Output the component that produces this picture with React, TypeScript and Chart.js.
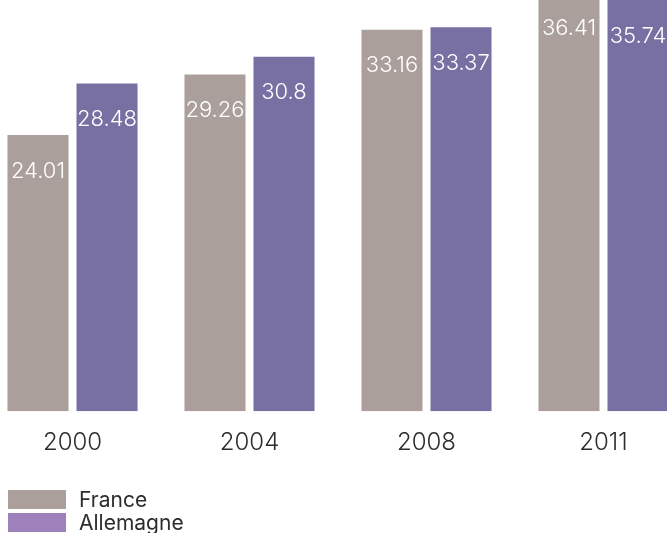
import React, { useEffect, useRef } from "react";
import { Chart, registerables } from "chart.js";

Chart.register(...registerables);

const years = ["2000", "2004", "2008", "2011"];
const france = [24.01, 29.26, 33.16, 36.41];
const allemagne = [28.48, 30.8, 33.37, 35.74];
const seriesNames = ["France", "Allemagne"];
const barColors = ["#ab9f9b", "#7870a3"];
const legendColors = ["#ab9f9b", "#9e80bb"];

const CANVAS_W = 708;
const CANVAS_H = 582;
const CANVAS_LEFT = -16;
const CANVAS_TOP = -49;

const valueLabels = {
  id: "valueLabels",
  afterDatasetsDraw(chart: any) {
    const ctx = chart.ctx;
    ctx.save();
    ctx.font = "300 22px Inter";
    ctx.fillStyle = "#ffffff";
    ctx.textAlign = "center";
    ctx.textBaseline = "middle";
    chart.data.datasets.forEach((ds: any, di: number) => {
      const meta = chart.getDatasetMeta(di);
      meta.data.forEach((bar: any, i: number) => {
        ctx.fillText(String(ds.data[i]), bar.x, bar.y + 36);
      });
    });
    ctx.restore();
  },
};

const stackedLegend = {
  id: "stackedLegend",
  afterDraw(chart: any) {
    const ctx = chart.ctx;
    const boxW = 58;
    const boxH = 19;
    const gap = 4;
    const left = 24;
    const bottom = chart.height - 1;
    ctx.save();
    ctx.font = "400 21px Inter";
    ctx.textAlign = "left";
    ctx.textBaseline = "middle";
    chart.data.datasets.forEach((ds: any, i: number) => {
      const top = bottom - (chart.data.datasets.length - i) * (boxH + gap) + gap;
      ctx.fillStyle = legendColors[i];
      ctx.fillRect(left, top, boxW, boxH);
      ctx.fillStyle = "#2d2d2d";
      ctx.fillText(ds.label, left + boxW + 13, top + boxH / 2 + 1);
    });
    ctx.restore();
  },
};

export default function App() {
  const ref = useRef<HTMLCanvasElement | null>(null);

  useEffect(() => {
    if (!ref.current) return;
    const chart = new Chart(ref.current, {
      type: "bar",
      data: {
        labels: years,
        datasets: [
          {
            label: seriesNames[0],
            data: france,
            backgroundColor: barColors[0],
            barPercentage: 0.884,
            categoryPercentage: 0.78,
          },
          {
            label: seriesNames[1],
            data: allemagne,
            backgroundColor: barColors[1],
            barPercentage: 0.884,
            categoryPercentage: 0.78,
          },
        ],
      },
      options: {
        responsive: false,
        animation: false,
        layout: { padding: { top: 0, left: 0, right: 0, bottom: 59 } },
        plugins: {
          legend: { display: false },
          tooltip: { enabled: false },
          title: { display: false },
        },
        scales: {
          x: {
            grid: { display: false, drawTicks: false },
            border: { display: false },
            ticks: {
              color: "#2d2d2d",
              padding: 17,
              font: { family: "Inter", size: 24, weight: 300 },
              maxRotation: 0,
            },
          },
          y: {
            display: false,
            min: 0,
            max: 40,
          },
        },
      },
      plugins: [valueLabels, stackedLegend],
    });
    return () => chart.destroy();
  }, []);

  return (
    <div
      style={{
        position: "absolute",
        left: 0,
        top: 0,
        width: 667,
        height: 533,
        overflow: "hidden",
        background: "#ffffff",
      }}
    >
      <canvas
        ref={ref}
        width={CANVAS_W}
        height={CANVAS_H}
        style={{
          position: "absolute",
          left: CANVAS_LEFT,
          top: CANVAS_TOP,
          width: CANVAS_W,
          height: CANVAS_H,
        }}
      />
    </div>
  );
}
